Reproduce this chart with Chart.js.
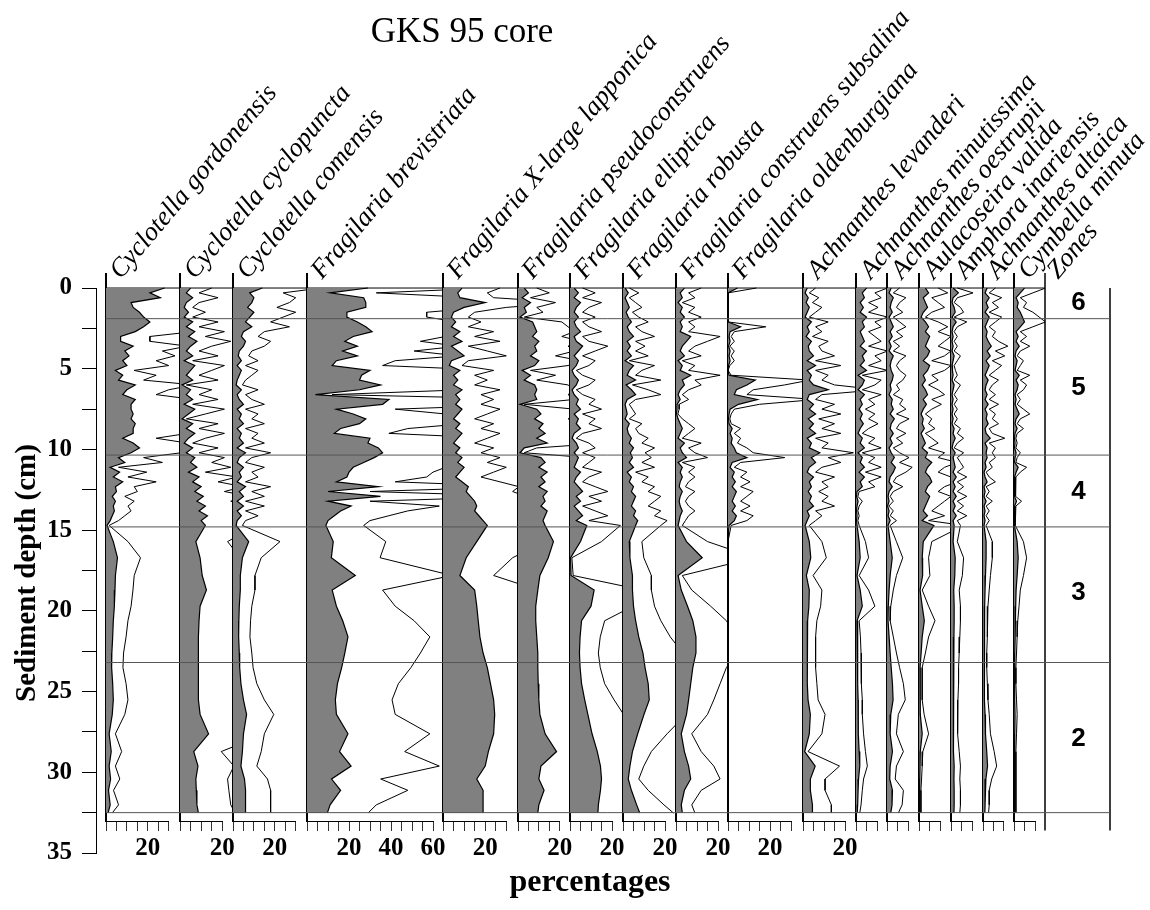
<!DOCTYPE html>
<html><head><meta charset="utf-8">
<script src="https://cdn.jsdelivr.net/npm/chart.js@4.4.1/dist/chart.umd.min.js"></script>
<style>
html,body{margin:0;padding:0;background:#fff;}
#wrap{position:relative;width:1150px;height:910px;overflow:hidden;background:#fff;}
canvas{position:absolute;}
</style></head><body><div id="wrap"></div>
<script>
// ---------------- DATA ----------------
const TITLE = 'GKS 95 core';
const X_TITLE = 'percentages';
const Y_TITLE = 'Sediment depth (cm)';
const ZONES_TITLE = 'Zones';

const depths = [0,0.3,0.6,0.9,1.2,1.5,1.8,2.1,2.4,2.7,3,3.3,3.6,3.9,4.2,4.5,4.8,5.1,5.4,5.7,
  6,6.3,6.6,6.9,7.2,7.5,7.8,8.1,8.4,8.7,9,9.3,9.6,9.9,10.2,10.5,10.8,11.1,11.4,11.7,
  12,12.3,12.6,12.9,13.2,13.5,13.8,14.1,14.4,14.7,
  15.7,16.7,17.8,18.7,19.7,20.6,21.6,22.6,23.5,24.5,25.5,26.4,27.6,28.7,29.6,30.4,31.1,32.0,32.5];

const taxa = ['Cyclotella gordonensis','Cyclotella cyclopuncta','Cyclotella comensis','Fragilaria brevistriata',
  'Fragilaria X-large lapponica','Fragilaria pseudoconstruens','Fragilaria elliptica','Fragilaria robusta',
  'Fragilaria construens subsalina','Fragilaria oldenburgiana','Achnanthes levanderi','Achnanthes minutissima',
  'Achnanthes oestrupii','Aulacoseira valida','Amphora inariensis','Achnanthes altaica','Cymbella minuta'];

const cyclotellaGordonensis = [28,21,26,12,13,16,18,21,18,14, 7,7,13,9,11,8,10,4.5,8,6, 14,10,8,14,12,12,13,12,14,13, 13,8,13,16,12,6,9,2,6.5,3.5, 8,4.5,5,3,4.5,3.5,4,3,2,0.5,
  3.5,5.5,4.5,4.3,4,3.5,3.2,2.8,2.7,3.2,3.5,3,1.5,2.5,1.5,2.2,1.2,2,1];
const cyclotellaCyclopuncta = [5,3,6,3,2,4,2,6,3,7, 4,8,5,3,6,2,7,5,3,6, 1,5,3,6,2,7,4,1,6,3, 7,4,2,6,3,7,5,8,4,9, 6,10,7,11,8,12,9,13,10,12,
  7.5,9.5,10.5,12.5,9.5,9,8.7,8.7,8.7,8.7,8.7,9.5,13.5,6.5,8.5,7.5,7.7,8,8.7];
const cyclotellaComensis = [14,8,10,9,7,10,8,6,9,5, 4,6,5,3,2.5,4,2,4,3,2, 1.5,4,2,3,5,2,4,3,5,2, 4,3,5,2,6,3,2,5,3,4, 2,6,3,5,2,5,2,4,2,1.5,
  7.5,4.5,3.5,3.5,3,2.8,2.7,3,3.2,3.8,5,6.5,5,4.5,3.8,5.5,6,6,6];
const fragilariaBrevistriata = [29,11,27,28,28,19,19,24,28,31, 22,18,24,17,24,14,12,30,26,25, 35,25,4,39,36,14,22,28,25,16, 13,30,29,34,36,32,27,22,20,19, 14,34,10,35,10,21,16,13,10,9,
  12.5,11.6,23,12,14,17,19.5,18,16.5,14.5,13.5,14,19.5,15.5,21,11.7,16,11,9.7];
const fragilariaLapponica = [9,7,8,20,10,5,4,6,4,8, 5,9,4,7,10,4,3,8,5,7, 5,9,6,8,6,9,7,5,8,6, 9,7,5,8,6,9,7,10,8,6, 9,12,11,13,15,16,15,17,19,21,
  16,11,8,15,16,16.7,17.5,19,21,22.5,24,24.5,24,21.5,20,16,19,19,19];
const fragilariaPseudoconstruens = [3,5,2,6,3,4,1,7,8,9, 7,10,8,9,6,10,8,2,6,3, 8,9,8,9,1,9,11,8,12,10, 13,9,14,3,1,11,13,10,14,11, 13,10,14,12,13,11,14,13,12,13,
  17,14.5,10.5,9.5,8.5,8.5,9,9.5,9.5,9.7,10,10.5,13,18.5,11,10,12.5,10,9.5];
const fragilariaElliptica = [2,4,2,5,3,2,4,2,3,5, 2,3,6,4,2,4,3,1,2,4, 3,1,2,4,3,5,2,4,3,5, 2,1,3,4,2,4,3,2,5,3, 2,4,6,3,5,2,4,6,3,8,
  5,0.3,0.5,11.5,10,5.5,4.8,4.5,4.8,5.5,7,8.5,10.5,13,14.5,15,14.5,13.5,13.3];
const fragilariaRobusta = [1,2.5,1,2,3,1.5,2.5,4,2,3, 5,2,3.5,2,4,1,5,3,2,6, 1.5,4,6,2,1,1.5,2,1,3,2, 2.5,4,3,5,3.5,4.5,3,5,2,4, 3,5,4,6,5,4,6,5,7,6,
  3,3.3,4.5,4.5,5,6,7.5,9.5,10.5,12,12.5,10,7,4.5,3.3,2.5,4,6.5,8];
const fragilariaSubsalina = [4,2,3,1,3,2,4,2,3,2, 7,5,3,2,4,1,3,2,7,3, 4,2,1,2,0.5,0.5,0.3,1,2,3, 2,1,4,2,3,5,1,3,2,3, 2,1.5,3,2,1.5,2,3,2,1.5,1,
  5,12.5,1,2.5,5.5,8,9.5,9.5,8,7,6,5,2.5,4,6,7,4,2.5,3];
const fragilariaOldenburgiana = [4.5,0,0,0,0,0,0,0,6,1, 0.5,1,0.3,1,0.5,1,0.3,0,0.5,13, 9,4,3,14,5,1,0.5,0.3,0.5,2, 1,2,1.5,3,4,9,2,1,3,2, 3.5,2,4,3,2,3.5,2,4,3,0.5,
  0,0,0,0,0,0,0,0,0,0,0,0,0,0,0,0,0,0,0];
const achnanthesLevanderi = [2,1,2.5,1.5,3,2,1,4,2,3, 1.5,4,2.5,3,5,2,6,2,4,3, 5,12,3,2,5,3,6,2.5,5,3, 6,2,4,3,8,4,6,3,2,5, 3,4,2.5,4,3,5,2,3,2,1,
  3,3.7,1.6,3,2.8,2.2,2,2,2,2.2,2.4,3.5,3,0.8,5.8,3.5,3.5,4.5,4.5];
const achnanthesMinutissima = [5,3,4,2,3.5,2,5,3,4,2, 3,4,2,5,3,4,2,5,1,4, 3,1,4,2,3,1.5,3,2,3.5,2, 1,3,2,4,1,3,2,4,1.5,4, 2,3,0.5,0.3,1,0.5,0.3,0.5,0.3,0.5,
  1.5,2,0.5,2,3,0.5,0.7,0.8,0.8,0.9,1,1,1.2,1.5,1.8,1.2,1,0.8,0.6];
const achnanthesOestrupii = [2,1,3,2,1.5,2.5,1,2,3,1.5, 2.5,1,2,1,3,2,1.5,2,3,2.5, 1.5,2,1,2.5,2,3,1.5,3.5,2,1.5, 3,1.5,2.5,1,2,3.5,2,4,3,1.5, 1,2.5,1,0.5,1,0.3,1,0.5,1.5,0.5,
  1.5,2.5,1.5,1,0.6,0.5,1,1.5,2,2.6,2.9,1.8,1.5,2.6,1.5,1.3,2.6,2.4,1.8];
const aulacoseiraValida = [3,4.5,2,3,4,2,1,3,4.5,3, 5,4,3,5,4,2,5,4,2,3, 1.5,3,4,2,3.5,2,1,2,1.5,2.5, 1,2,3,1.5,4,3,6,4,3,5, 6,4,3,5,4,3,2,4,1.5,7,
  2,1.5,1.7,0.5,1.5,2.5,1.5,1,0.5,0.5,0.5,0.8,1.5,0.6,0.5,0.4,0.3,0.3,0.3];
const amphoraInariensis = [1,3.5,1,0.5,1.5,2,0.5,2.5,1,0.5, 1,0.5,1,0.5,1.5,1,0.5,0.7,1,0.5, 1.5,1,0.5,1,0.5,1,0.5,1,0.5,1.5, 1,2,1,0.5,2,1,1.5,2,1,2.5, 1,2,1,2.5,1,2,1,2.5,1,1.5,
  1,2,1.8,1.3,1.5,1.5,1.4,1.3,1.2,1.2,1.1,1,1.1,1.3,1.5,1.4,1.5,1.5,1.4];
const achnanthesAltaica = [2,1,3,1.5,2.5,1,3,2,1,2, 1.5,2.5,4,2,3.5,1.5,3,2,1,2.5, 1.5,1,2,1,2.5,1,2,1.5,2.5,1, 1.5,3.5,1,2,1.5,2,1,1.5,0.5,1, 2,0.5,1,0.5,1.5,0.5,1,0.5,1,0.5,
  1.5,1.5,1.2,1,0.8,0.7,0.7,0.6,0.6,0.7,0.8,1,1.2,1.8,2.2,1.4,1,1,0.9];
const cymbellaMinuta = [5,3,1,2,1.5,3,4,5,3,1, 2,1,2.5,1,0.5,1.5,1,0.5,2.5,1, 2,1.5,0.5,1,0.5,1.5,2.5,1,0.5,1.5, 0.5,0.3,0.5,0.3,1,0.5,0.3,2,1,0.3, 0.2,0.3,0.2,0.3,1.2,0.3,0.2,0.2,0.2,0.2,
  1.5,2,1.5,1,0.8,0.6,0.5,0.4,0.3,0.3,0.4,0.5,0.4,0.3,0.3,0.3,0.3,0.3,0.3];

const taxaValues = [cyclotellaGordonensis, cyclotellaCyclopuncta, cyclotellaComensis, fragilariaBrevistriata,
  fragilariaLapponica, fragilariaPseudoconstruens, fragilariaElliptica, fragilariaRobusta, fragilariaSubsalina,
  fragilariaOldenburgiana, achnanthesLevanderi, achnanthesMinutissima, achnanthesOestrupii, aulacoseiraValida,
  amphoraInariensis, achnanthesAltaica, cymbellaMinuta];

const axisMax = [30,20,30,60,30,20,20,20,20,30,20,10,10,10,10,10,10];
const tickStep = 5;
const labelEvery = 20;
const EXAGGERATION = 3;

const zoneBounds = [1.9, 10.35, 14.8, 23.2, 32.5];
const zoneNames = ['6','5','4','3','2'];
const zoneLabelDepth = [0.9, 6.2, 12.6, 18.9, 27.9];
const depthTicks = {min: 0, max: 35, step: 2.5, labelEvery: 5};

// ---------------- LAYOUT ----------------
const panelLeft = [105.7,180,232.7,307,443,517.7,570,623,676,728,803,856,887,919,950.7,982.7,1014];
const boxRight  = [180,232.7,307,443,517.7,570,623,676,728,803,856,887,919,950.7,982.7,1014,1045];
const zonesLeft = 1045, zonesRight = 1110;
const PX = 2.1;           // px per percent
const TOP = 273, AXIS_Y = 821, AX_H = 52;
const Y_MIN = -0.93, Y_MAX_PANEL = 33.0;

const wrap = document.getElementById('wrap');
const SERIF = '"Liberation Serif", "Times New Roman", serif';

function makeCanvas(x, y, w, h, z) {
  const c = document.createElement('canvas');
  c.width = Math.round(w); c.height = Math.round(h);
  c.style.left = x + 'px'; c.style.top = y + 'px';
  c.style.width = Math.round(w) + 'px'; c.style.height = Math.round(h) + 'px';
  c.style.zIndex = z;
  wrap.appendChild(c);
  return c;
}

taxa.forEach((name, i) => {
  const vals = taxaValues[i];
  const left = panelLeft[i];
  const areaW = axisMax[i] * PX;
  const boxW = boxRight[i] - left;
  const extra = Math.max(boxW - areaW, 0);
  const padL = 6, padR = extra + 28;
  const cw = padL + areaW + padR;
  const ch = (AXIS_Y - TOP) + AX_H;
  const cv = makeCanvas(left - padL, TOP, cw, ch, 1 + i);
  const clip = {left: 2, top: 0, right: extra, bottom: 0};
  new Chart(cv, {
    type: 'line',
    data: {
      datasets: [
        { data: depths.map((d, k) => ({x: vals[k], y: d})),
          borderColor: '#000', borderWidth: 1.2, backgroundColor: '#808080',
          fill: 'origin', pointRadius: 0, tension: 0, clip: clip },
        { data: depths.map((d, k) => ({x: vals[k] * EXAGGERATION, y: d})),
          borderColor: '#000', borderWidth: 1, fill: false, pointRadius: 0, tension: 0, clip: clip },
        { data: [{x: 0, y: 0}, {x: boxW / PX, y: 0}],
          borderColor: '#000', borderWidth: 1, fill: false, pointRadius: 0, clip: clip }
      ]
    },
    options: {
      indexAxis: 'y',
      responsive: false, animation: false, devicePixelRatio: 1,
      layout: {padding: {left: padL, right: padR, top: 0, bottom: 0}},
      plugins: {legend: {display: false}, tooltip: {enabled: false}, title: {display: false}},
      scales: {
        x: {
          type: 'linear', position: 'bottom', min: 0, max: axisMax[i],
          grid: {display: true, drawOnChartArea: false, drawTicks: true, tickLength: 10, color: '#333', lineWidth: 1},
          border: {display: true, color: '#000', width: 1},
          ticks: {stepSize: tickStep, autoSkip: false, maxRotation: 0, padding: 3, color: '#000',
            font: {family: SERIF, size: 25, weight: 'bold'},
            callback: v => (v > 0 && v % labelEvery === 0) ? String(v) : ''},
          afterFit: s => { s.height = AX_H; s.paddingLeft = 0; s.paddingRight = 0; }
        },
        y: {
          type: 'linear', position: 'left', reverse: true, min: Y_MIN, max: Y_MAX_PANEL,
          grid: {display: false}, ticks: {display: false},
          border: {display: true, color: '#000', width: 2},
          afterFit: s => { s.width = 0; s.paddingTop = 0; s.paddingBottom = 0; }
        }
      }
    }
  });
});

// ---------------- OVERLAY (depth axis, zones, texts) ----------------
const textPlugin = {
  id: 'texts',
  afterDraw(chart) {
    const ctx = chart.ctx, ys = chart.scales.y;
    ctx.save();
    ctx.fillStyle = '#000';
    ctx.textAlign = 'center'; ctx.textBaseline = 'middle';
    ctx.font = '35px ' + SERIF;
    ctx.fillText(TITLE, 462, 33);
    ctx.font = 'bold 32px ' + SERIF;
    ctx.fillText(X_TITLE, 590, 883);
    ctx.font = 'bold 29px ' + SERIF;
    ctx.save(); ctx.translate(28, 573); ctx.rotate(-Math.PI / 2);
    ctx.fillText(Y_TITLE, 0, 0); ctx.restore();
    ctx.textAlign = 'left'; ctx.textBaseline = 'alphabetic';
    ctx.font = 'italic 26.5px ' + SERIF;
    const ang = -50 * Math.PI / 180;
    taxa.forEach((t, i) => {
      ctx.save(); ctx.translate(panelLeft[i] + 15, 280); ctx.rotate(ang); ctx.fillText(t, 0, 0); ctx.restore();
    });
    ctx.save(); ctx.translate(zonesLeft + 13, 280); ctx.rotate(ang); ctx.fillText(ZONES_TITLE, 0, 0); ctx.restore();
    ctx.textAlign = 'center'; ctx.textBaseline = 'middle';
    ctx.font = 'bold 26px "Liberation Sans", Arial, sans-serif';
    zoneNames.forEach((z, i) => ctx.fillText(z, (zonesLeft + zonesRight) / 2 + 1, ys.getPixelForValue(zoneLabelDepth[i])));
    ctx.restore();
  }
};

const ov = makeCanvas(0, 0, 1150, 910, 50);
const overlaySets = zoneBounds.map(d => ({
  data: [{x: panelLeft[0], y: d}, {x: zonesRight, y: d}],
  borderColor: '#555', borderWidth: 1, pointRadius: 0, fill: false, clip: false
}));
overlaySets.push({data: [{x: zonesLeft, y: Y_MIN}, {x: zonesLeft, y: 33.6}], borderColor: '#000', borderWidth: 1.5, pointRadius: 0, fill: false, clip: false});
overlaySets.push({data: [{x: zonesRight, y: 0}, {x: zonesRight, y: 33.6}], borderColor: '#000', borderWidth: 1.5, pointRadius: 0, fill: false, clip: false});

new Chart(ov, {
  type: 'line',
  data: {datasets: overlaySets},
  options: {
    responsive: false, animation: false, devicePixelRatio: 1,
    layout: {padding: {left: 0, right: 1150 - zonesRight, top: 288, bottom: 910 - 853}},
    plugins: {legend: {display: false}, tooltip: {enabled: false}},
    scales: {
      x: {type: 'linear', min: 96, max: zonesRight, display: false},
      y: {
        type: 'linear', position: 'left', reverse: true, min: depthTicks.min, max: depthTicks.max,
        grid: {display: true, drawOnChartArea: false, drawTicks: true, tickLength: 14, color: '#000', lineWidth: 1},
        border: {display: true, color: '#000', width: 1},
        ticks: {stepSize: depthTicks.step, autoSkip: false, padding: 10, color: '#000',
          font: {family: SERIF, size: 25, weight: 'bold'},
          callback: v => (v % depthTicks.labelEvery === 0) ? String(v) : ''},
        afterFit: s => { s.width = 96; s.paddingTop = 0; s.paddingBottom = 0; }
      }
    }
  },
  plugins: [textPlugin]
});
</script>
</body></html>
